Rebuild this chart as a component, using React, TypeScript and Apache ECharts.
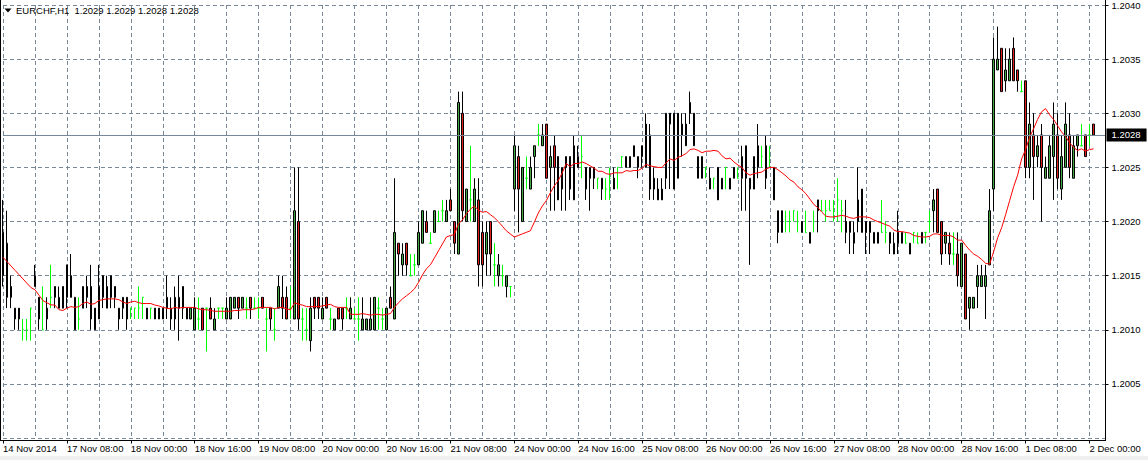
import React, { useEffect, useRef } from "react";
import * as echarts from "echarts";

const symbolName = "EURCHF,H1";

const opens = [
  1.2015,1.2018,1.2014,1.2012,1.2012,1.2010,1.2010,1.2012,1.2015,1.2013,
  1.2010,1.2011,1.2013,1.2014,1.2012,1.2014,1.2013,1.2015,1.2013,1.2011,
  1.2012,1.2013,1.2014,1.2010,1.2011,1.2015,1.2012,1.2015,1.2014,1.2012,
  1.2012,1.2013,1.2012,1.2012,1.2012,1.2013,1.2012,1.2012,1.2011,1.2011,
  1.2011,1.2013,1.2011,1.2011,1.2013,1.2014,1.2011,1.2011,1.2010,1.2011,
  1.2012,1.2012,1.2012,1.2010,1.2012,1.2012,1.2011,1.2011,1.2012,1.2013,
  1.2012,1.2012,1.2013,1.2012,1.2012,1.2013,1.2011,1.2012,1.2010,1.2012,
  1.2013,1.2013,1.2012,1.2011,1.2020,1.2011,1.2010,1.2009,1.2013,1.2013,
  1.2011,1.2013,1.2011,1.2010,1.2012,1.2012,1.2012,1.2011,1.2011,1.2011,
  1.2010,1.2010,1.2010,1.2010,1.2012,1.2011,1.2010,1.2013,1.2011,1.2018,
  1.2016,1.2018,1.2015,1.2016,1.2016,1.2018,1.2020,1.2018,1.2019,1.2020,
  1.2021,1.2020,1.2022,1.2020,1.2017,1.2030,1.2020,1.2022,1.2020,1.2022,
  1.2019,1.2017,1.2020,1.2016,1.2015,1.2015,1.2014,1.2014,1.2023,1.2026,
  1.2020,1.2024,1.2023,1.2026,1.2028,1.2027,1.2029,1.2025,1.2027,1.2026,
  1.2023,1.2025,1.2026,1.2022,1.2026,1.2026,1.2025,1.2025,1.2024,1.2024,
  1.2023,1.2023,1.2024,1.2023,1.2025,1.2026,1.2025,1.2025,1.2027,1.2025,
  1.2027,1.2025,1.2028,1.2024,1.2022,1.2022,1.2024,1.2030,1.2030,1.2024,
  1.2029,1.2027,1.2030,1.2030,1.2026,1.2024,1.2025,1.2024,1.2024,1.2025,
  1.2023,1.2025,1.2023,1.2024,1.2024,1.2024,1.2027,1.2023,1.2023,1.2025,
  1.2026,1.2024,1.2026,1.2025,1.2019,1.2019,1.2020,1.2020,1.2021,1.2020,
  1.2019,1.2019,1.2018,1.2020,1.2021,1.2021,1.2021,1.2021,1.2021,1.2022,
  1.2021,1.2020,1.2020,1.2018,1.2020,1.2023,1.2020,1.2020,1.2018,1.2018,
  1.2019,1.2019,1.2018,1.2018,1.2018,1.2018,1.2018,1.2017,1.2019,1.2018,
  1.2019,1.2019,1.2020,1.2021,1.2023,1.2020,1.2018,1.2018,1.2017,1.2017,
  1.2014,1.2017,1.2012,1.2012,1.2014,1.2014,1.2014,1.2016,1.2023,1.2034,
  1.2036,1.2033,1.2033,1.2036,1.2034,1.2032,1.2033,1.2025,1.2028,1.2026,
  1.2028,1.2024,1.2024,1.2026,1.2028,1.2023,1.2025,1.2028,1.2024,1.2027,
  1.2027,1.2028,1.2028,1.2029,
];

const highs = [
  1.2022,1.2021,1.2015,1.2012,1.2012,1.2011,1.2011,1.2012,1.2016,1.2013,
  1.2014,1.2013,1.2016,1.2014,1.2014,1.2014,1.2016,1.2017,1.2013,1.2013,
  1.2014,1.2015,1.2016,1.2012,1.2016,1.2015,1.2015,1.2015,1.2014,1.2012,
  1.2013,1.2013,1.2012,1.2012,1.2014,1.2013,1.2012,1.2012,1.2012,1.2012,
  1.2012,1.2015,1.2013,1.2014,1.2015,1.2014,1.2012,1.2012,1.2013,1.2013,
  1.2012,1.2012,1.2013,1.2012,1.2012,1.2012,1.2013,1.2013,1.2013,1.2013,
  1.2013,1.2013,1.2013,1.2013,1.2013,1.2013,1.2012,1.2012,1.2012,1.2015,
  1.2015,1.2014,1.2014,1.2025,1.2025,1.2012,1.2012,1.2013,1.2013,1.2013,
  1.2013,1.2013,1.2012,1.2011,1.2012,1.2012,1.2013,1.2013,1.2012,1.2013,
  1.2013,1.2011,1.2013,1.2013,1.2013,1.2012,1.2012,1.2014,1.2024,1.2018,
  1.2018,1.2018,1.2017,1.2017,1.2020,1.2021,1.2021,1.2019,1.2021,1.2021,
  1.2022,1.2022,1.2023,1.2020,1.2032,1.2032,1.2023,1.2027,1.2024,1.2024,
  1.2020,1.2020,1.2020,1.2018,1.2017,1.2016,1.2015,1.2014,1.2028,1.2027,
  1.2025,1.2026,1.2026,1.2027,1.2029,1.2029,1.2029,1.2027,1.2028,1.2026,
  1.2025,1.2026,1.2026,1.2028,1.2027,1.2028,1.2025,1.2025,1.2025,1.2024,
  1.2024,1.2024,1.2025,1.2025,1.2025,1.2026,1.2026,1.2026,1.2027,1.2026,
  1.2027,1.2030,1.2029,1.2025,1.2024,1.2024,1.2030,1.2030,1.2030,1.2030,
  1.2030,1.2030,1.2032,1.2030,1.2026,1.2026,1.2025,1.2025,1.2024,1.2025,
  1.2024,1.2025,1.2024,1.2025,1.2025,1.2027,1.2027,1.2024,1.2026,1.2029,
  1.2027,1.2028,1.2027,1.2025,1.2021,1.2021,1.2021,1.2021,1.2021,1.2021,
  1.2020,1.2021,1.2019,1.2021,1.2022,1.2022,1.2022,1.2022,1.2022,1.2024,
  1.2022,1.2022,1.2020,1.2020,1.2025,1.2023,1.2020,1.2020,1.2019,1.2019,
  1.2022,1.2020,1.2019,1.2019,1.2021,1.2019,1.2019,1.2018,1.2019,1.2019,
  1.2019,1.2019,1.2021,1.2023,1.2023,1.2020,1.2019,1.2019,1.2019,1.2019,
  1.2018,1.2017,1.2013,1.2013,1.2016,1.2016,1.2016,1.2023,1.2037,1.2038,
  1.2036,1.2036,1.2036,1.2037,1.2034,1.2033,1.2033,1.2031,1.2030,1.2028,
  1.2029,1.2026,1.2028,1.2031,1.2030,1.2028,1.2031,1.2030,1.2028,1.2028,
  1.2029,1.2028,1.2029,1.2029,
];

const lows = [
  1.2014,1.2012,1.2012,1.2010,1.2010,1.2009,1.2009,1.2009,1.2014,1.2010,
  1.2010,1.2010,1.2012,1.2012,1.2012,1.2012,1.2012,1.2013,1.2010,1.2010,
  1.2012,1.2012,1.2010,1.2010,1.2011,1.2012,1.2012,1.2012,1.2012,1.2010,
  1.2011,1.2010,1.2011,1.2011,1.2011,1.2011,1.2011,1.2011,1.2011,1.2011,
  1.2011,1.2011,1.2010,1.2010,1.2009,1.2011,1.2011,1.2011,1.2010,1.2010,
  1.2010,1.2008,1.2011,1.2010,1.2011,1.2011,1.2011,1.2011,1.2012,1.2011,
  1.2012,1.2011,1.2011,1.2012,1.2011,1.2012,1.2008,1.2010,1.2009,1.2012,
  1.2011,1.2011,1.2011,1.2011,1.2010,1.2009,1.2009,1.2008,1.2011,1.2011,
  1.2011,1.2012,1.2010,1.2010,1.2011,1.2010,1.2011,1.2011,1.2011,1.2009,
  1.2010,1.2010,1.2010,1.2010,1.2010,1.2010,1.2010,1.2012,1.2011,1.2015,
  1.2015,1.2015,1.2015,1.2015,1.2016,1.2018,1.2019,1.2018,1.2019,1.2020,
  1.2020,1.2020,1.2021,1.2017,1.2017,1.2020,1.2020,1.2020,1.2020,1.2014,
  1.2014,1.2015,1.2015,1.2014,1.2014,1.2014,1.2013,1.2013,1.2021,1.2019,
  1.2020,1.2023,1.2023,1.2024,1.2027,1.2027,1.2024,1.2021,1.2021,1.2022,
  1.2021,1.2021,1.2022,1.2022,1.2025,1.2024,1.2022,1.2021,1.2023,1.2023,
  1.2022,1.2022,1.2022,1.2023,1.2023,1.2025,1.2025,1.2025,1.2026,1.2024,
  1.2025,1.2025,1.2022,1.2022,1.2022,1.2022,1.2023,1.2023,1.2023,1.2024,
  1.2026,1.2027,1.2029,1.2027,1.2024,1.2024,1.2024,1.2023,1.2023,1.2022,
  1.2023,1.2023,1.2023,1.2024,1.2024,1.2021,1.2021,1.2016,1.2023,1.2024,
  1.2025,1.2023,1.2025,1.2022,1.2018,1.2019,1.2019,1.2019,1.2020,1.2019,
  1.2019,1.2019,1.2018,1.2019,1.2019,1.2021,1.2020,1.2021,1.2020,1.2020,
  1.2019,1.2018,1.2017,1.2017,1.2019,1.2019,1.2017,1.2017,1.2018,1.2018,
  1.2019,1.2018,1.2017,1.2017,1.2017,1.2018,1.2018,1.2017,1.2018,1.2018,
  1.2018,1.2018,1.2019,1.2019,1.2019,1.2016,1.2017,1.2016,1.2016,1.2014,
  1.2014,1.2011,1.2010,1.2012,1.2012,1.2014,1.2011,1.2016,1.2021,1.2034,
  1.2032,1.2032,1.2033,1.2033,1.2032,1.2032,1.2024,1.2024,1.2022,1.2025,
  1.2020,1.2024,1.2024,1.2022,1.2023,1.2022,1.2025,1.2024,1.2024,1.2026,
  1.2027,1.2026,1.2027,1.2028,
];

const closes = [
  1.2019,1.2013,1.2013,1.2011,1.2011,1.2010,1.2010,1.2012,1.2014,1.2011,
  1.2010,1.2012,1.2013,1.2013,1.2013,1.2012,1.2016,1.2013,1.2010,1.2011,
  1.2014,1.2014,1.2011,1.2012,1.2014,1.2013,1.2014,1.2013,1.2013,1.2011,
  1.2013,1.2011,1.2012,1.2012,1.2012,1.2013,1.2011,1.2012,1.2012,1.2012,
  1.2012,1.2012,1.2012,1.2013,1.2012,1.2012,1.2012,1.2012,1.2012,1.2011,
  1.2010,1.2012,1.2011,1.2011,1.2012,1.2012,1.2012,1.2013,1.2013,1.2012,
  1.2013,1.2012,1.2012,1.2012,1.2012,1.2012,1.2011,1.2011,1.2010,1.2014,
  1.2012,1.2011,1.2012,1.2021,1.2011,1.2011,1.2010,1.2012,1.2012,1.2012,
  1.2012,1.2012,1.2011,1.2011,1.2011,1.2011,1.2012,1.2012,1.2011,1.2011,
  1.2011,1.2011,1.2011,1.2013,1.2012,1.2011,1.2012,1.2012,1.2019,1.2017,
  1.2017,1.2016,1.2015,1.2016,1.2019,1.2021,1.2019,1.2018,1.2021,1.2020,
  1.2021,1.2021,1.2021,1.2018,1.2031,1.2021,1.2023,1.2022,1.2023,1.2016,
  1.2016,1.2019,1.2017,1.2016,1.2016,1.2015,1.2015,1.2014,1.2027,1.2023,
  1.2025,1.2024,1.2025,1.2027,1.2028,1.2028,1.2024,1.2026,1.2025,1.2022,
  1.2025,1.2026,1.2023,1.2027,1.2025,1.2026,1.2023,1.2024,1.2025,1.2024,
  1.2024,1.2023,1.2024,1.2024,1.2025,1.2026,1.2026,1.2026,1.2026,1.2026,
  1.2026,1.2029,1.2023,1.2023,1.2023,1.2023,1.2030,1.2029,1.2023,1.2030,
  1.2028,1.2029,1.2031,1.2027,1.2024,1.2026,1.2025,1.2023,1.2024,1.2022,
  1.2024,1.2025,1.2024,1.2025,1.2024,1.2026,1.2024,1.2024,1.2026,1.2027,
  1.2026,1.2027,1.2026,1.2022,1.2021,1.2021,1.2020,1.2020,1.2021,1.2020,
  1.2020,1.2019,1.2019,1.2020,1.2022,1.2021,1.2021,1.2021,1.2021,1.2022,
  1.2021,1.2019,1.2019,1.2019,1.2022,1.2019,1.2019,1.2019,1.2019,1.2019,
  1.2019,1.2019,1.2019,1.2017,1.2019,1.2019,1.2018,1.2018,1.2019,1.2018,
  1.2018,1.2019,1.2020,1.2022,1.2019,1.2017,1.2019,1.2017,1.2017,1.2015,
  1.2018,1.2011,1.2013,1.2013,1.2015,1.2015,1.2015,1.2021,1.2035,1.2035,
  1.2032,1.2034,1.2035,1.2033,1.2033,1.2032,1.2025,1.2029,1.2026,1.2027,
  1.2025,1.2025,1.2027,1.2029,1.2024,1.2026,1.2029,1.2025,1.2027,1.2028,
  1.2027,1.2026,1.2028,1.2028,
];

// Moving-average values for the first bars (its window reaches before the chart)
const maWarmup = [
  1.20167,1.20163,1.20159,1.20155,1.20151,1.20147,1.20143,1.20139,1.20137,1.20132,
  1.20127,1.20125,1.20123,
];
const maPeriod = 14;

const xTickLabels = [
  "14 Nov 2014","17 Nov 08:00","18 Nov 00:00","18 Nov 16:00","19 Nov 08:00","20 Nov 00:00",
  "20 Nov 16:00","21 Nov 08:00","24 Nov 00:00","24 Nov 16:00","25 Nov 08:00","26 Nov 00:00",
  "26 Nov 16:00","27 Nov 08:00","28 Nov 00:00","28 Nov 16:00","1 Dec 08:00","2 Dec 00:00",
];
const barsPerLabel = 16;
const emptySlots = 3;

const yMin = 1.2;
const yMax = 1.204;
const yStep = 0.0005;

const FONT = "'Liberation Sans', Arial, sans-serif";
const GRID_COLOR = "#778899";
const DOJI = "#00ff00";

export default function App() {
  const ref = useRef<HTMLDivElement>(null);

  useEffect(() => {
    if (!ref.current) return;
    const chart = echarts.init(ref.current, null, { renderer: "svg" });

    const n = closes.length;
    const categories = Array.from({ length: n + emptySlots }, (_, i) => String(i));
    const candleData = closes.map((c, i) => {
      const value = [opens[i], c, lows[i], highs[i]];
      if (opens[i] === c) {
        return {
          value,
          itemStyle: {
            color: DOJI, color0: DOJI, borderColor: DOJI, borderColor0: DOJI, borderColorDoji: DOJI,
          },
        };
      }
      return { value };
    });
    const ma = closes.map((_, i) => {
      if (i < maPeriod - 1) return maWarmup[i];
      let s = 0;
      for (let k = i - maPeriod + 1; k <= i; k++) s += closes[k];
      return s / maPeriod;
    });
    const last = n - 1;
    const bid = closes[last];
    const f4 = (v: number) => v.toFixed(4);
    const titleText = `${symbolName}  ${f4(opens[last])} ${f4(highs[last])} ${f4(lows[last])} ${f4(closes[last])}`;

    const option: any = {
      animation: false,
      backgroundColor: "#ffffff",
      grid: { left: 1.5, top: 3.3, width: 1104, height: 434.8, show: false },
      xAxis: {
        type: "category",
        data: categories,
        boundaryGap: false,
        offset: 2.4,
        axisLine: { show: false },
        axisTick: { show: true, interval: barsPerLabel - 1, length: 3, lineStyle: { color: "#000" } },
        axisLabel: {
          interval: barsPerLabel - 1,
          formatter: (_v: string, idx: number) => xTickLabels[idx / barsPerLabel] ?? "",
          align: "left",
          margin: 3,
          fontSize: 9.5,
          color: "#000",
          fontFamily: FONT,
        },
        splitLine: {
          show: true,
          interval: barsPerLabel / 2 - 1,
          lineStyle: { color: GRID_COLOR, type: [4, 3], width: 1 },
        },
      },
      yAxis: {
        type: "value",
        position: "right",
        min: yMin,
        max: yMax,
        interval: yStep,
        axisLine: { show: false },
        axisTick: { show: true, length: 3, lineStyle: { color: "#000" } },
        axisLabel: {
          formatter: (v: number) => v.toFixed(4),
          color: "#000",
          fontSize: 9.5,
          margin: 6,
          fontFamily: FONT,
          showMinLabel: false,
        },
        splitLine: { show: true, lineStyle: { color: GRID_COLOR, type: [4, 3], width: 1 } },
      },
      series: [
        {
          type: "candlestick",
          data: candleData,
          barWidth: 2,
          clip: false,
          itemStyle: {
            color: "#43a843",
            color0: "#e0201c",
            borderColor: "#000000",
            borderColor0: "#000000",
            borderColorDoji: DOJI,
            borderWidth: 1,
          },
          z: 2,
        },
        {
          type: "line",
          data: ma,
          symbol: "none",
          showSymbol: false,
          lineStyle: { color: "#ff0000", width: 1 },
          z: 3,
          markLine: {
            silent: true,
            precision: 4,
            symbol: ["none", "none"],
            data: [{ yAxis: bid }],
            lineStyle: { color: GRID_COLOR, type: "solid", width: 1 },
            label: {
              show: true,
              position: "end",
              formatter: f4(bid),
              color: "#ffffff",
              backgroundColor: "#000000",
              padding: [2, 6, 1, 5],
              distance: 1,
              fontSize: 9.5,
              fontFamily: FONT,
            },
          },
        },
      ],
      graphic: [
        { type: "line", shape: { x1: 0.5, y1: 0, x2: 0.5, y2: 440.5 }, style: { stroke: "#000", lineWidth: 1 }, z: 10 },
        { type: "line", shape: { x1: 0, y1: 440.5, x2: 1106, y2: 440.5 }, style: { stroke: "#000", lineWidth: 1 }, z: 10 },
        { type: "line", shape: { x1: 1105.5, y1: 0, x2: 1105.5, y2: 440.5 }, style: { stroke: "#000", lineWidth: 1 }, z: 10 },
        { type: "rect", shape: { x: 0, y: 456, width: 1148, height: 4 }, style: { fill: "#f0f0f0" }, z: 10 },
        { type: "polygon", shape: { points: [[4.5, 8.5], [11.5, 8.5], [8, 12.5]] }, style: { fill: "#000" }, z: 10 },
        {
          type: "text",
          x: 16,
          y: 10,
          style: { text: titleText, fill: "#000", fontSize: 9.5, fontFamily: FONT, verticalAlign: "middle" },
          z: 10,
        },
      ],
    };

    chart.setOption(option);
    return () => chart.dispose();
  }, []);

  return (
    <div
      ref={ref}
      style={{ position: "fixed", left: 0, top: 0, width: 1148, height: 460, background: "#fff" }}
    />
  );
}
